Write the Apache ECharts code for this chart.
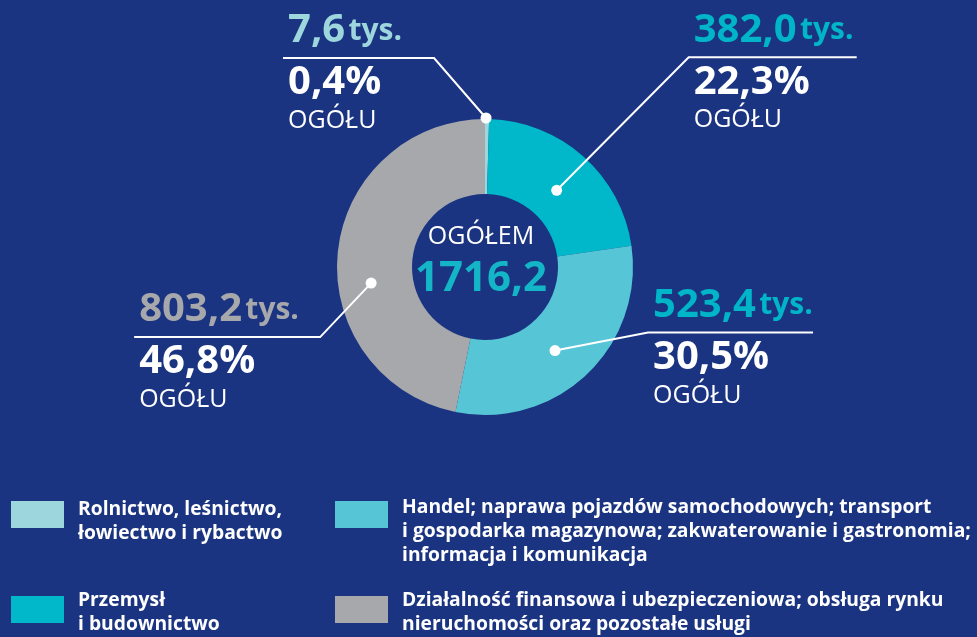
<!DOCTYPE html>
<html>
<head>
<meta charset="utf-8">
<script src="https://cdn.jsdelivr.net/npm/echarts@6/dist/echarts.min.js"></script>
<style>
  html, body { margin: 0; padding: 0; background: #1a3481; }
  #chart { width: 977px; height: 637px; }
</style>
</head>
<body>
<div id="chart"></div>
<script>
const categories = [
  'Rolnictwo, leśnictwo,\nłowiectwo i rybactwo',
  'Przemysł\ni budownictwo',
  'Handel; naprawa pojazdów samochodowych; transport\ni gospodarka magazynowa; zakwaterowanie i gastronomia;\ninformacja i komunikacja',
  'Działalność finansowa i ubezpieczeniowa; obsługa rynku\nnieruchomości oraz pozostałe usługi'
];
const values = [7.6, 382.0, 523.4, 803.2];
const totalTitle = 'OGÓŁEM';
const unit = 'tys.';
const shareWord = 'OGÓŁU';

const sliceColors = ['#9dd6dd', '#00b8c9', '#56c6d6', '#a7a8ac'];
const valueColors = ['#9dd6dd', '#00b5c8', '#00b5c8', '#a7a8ac'];
const font = '"Open Sans", sans-serif';

// leader shape per slice: dot radius, angle nudge (deg), elbow offset, horizontal run
const leaders = [
  { r: 149, nudge: -0.4, dx: -52, dy: -60, run: -151 },
  { r: 105, nudge: 1.4, dx: 132, dy: -133, run: 168 },
  { r: 109, nudge: 3.4, dx: 93, dy: -18, run: 165 },
  { r: 115, nudge: -13.8, dx: -51, dy: 54, run: -186 }
];
// legend layout: [left, top, spacer above text]
const legendBoxes = [[11, 483.5, 14], [11, 582.5, 6], [335, 461, 35], [335, 582.5, 6]];

const total = values.reduce((a, b) => a + b, 0);
const fmt = v => v.toFixed(1).replace('.', ',');
const cum = values.map((v, i) => values.slice(0, i).reduce((a, b) => a + b, 0));
const dots = values.map((v, i) => [leaders[i].r, cum[i] + v / 2 + leaders[i].nudge / 360 * total]);

const chart = echarts.init(document.getElementById('chart'));

const rich = {
  p: { fontSize: 40, fontWeight: 'bold', color: '#fff', lineHeight: 52, fontFamily: font },
  o: { fontSize: 25, color: '#fff', lineHeight: 24, fontFamily: font }
};
valueColors.forEach((c, i) => {
  rich['v' + i] = { fontSize: 40, fontWeight: 'bold', color: c, lineHeight: 52, fontFamily: font };
  rich['t' + i] = { fontSize: 30, fontWeight: 'bold', color: c, lineHeight: 52, fontFamily: font };
});

const pieBase = {
  type: 'pie',
  center: [485, 267],
  radius: [73, 148],
  startAngle: 90,
  clockwise: true,
  silent: true
};

chart.setOption({
  backgroundColor: '#1a3481',
  animation: false,
  title: {
    text: totalTitle,
    subtext: fmt(total),
    left: 481,
    top: 224,
    padding: 0,
    itemGap: 9,
    textAlign: 'center',
    textStyle: { color: '#fff', fontSize: 25, fontWeight: 'normal', fontFamily: font },
    subtextStyle: { color: '#13b5c7', fontSize: 42, fontWeight: 'bold', fontFamily: font }
  },
  legend: categories.map((name, i) => ({
    data: [name],
    left: legendBoxes[i][0],
    top: legendBoxes[i][1],
    padding: 0,
    icon: 'rect',
    itemWidth: 53,
    itemHeight: 27,
    selectedMode: false,
    formatter: n => '{s| }\n' + n,
    textStyle: {
      color: '#fff', fontSize: 19.3, fontWeight: 'bold', lineHeight: 24, fontFamily: font,
      padding: [0, 0, 0, 9],
      rich: { s: { fontSize: 1, lineHeight: legendBoxes[i][2] } }
    }
  })),
  polar: { center: [485, 267], radius: 160 },
  angleAxis: { type: 'value', min: 0, max: total, startAngle: 90, clockwise: true, show: false },
  radiusAxis: { type: 'value', min: 0, max: 160, show: false },
  series: [
    Object.assign({}, pieBase, {
      z: 2,
      label: { show: false },
      labelLine: { show: false },
      data: values.map((v, i) => ({ name: categories[i], value: v, itemStyle: { color: sliceColors[i] } }))
    }),
    // transparent copy on top that carries the callouts
    Object.assign({}, pieBase, {
      z: 3,
      avoidLabelOverlap: false,
      itemStyle: { color: 'rgba(0,0,0,0)' },
      data: values.map((v, i) => ({ name: categories[i], value: v })),
      label: {
        show: true,
        position: 'outside',
        formatter: p => {
          const i = p.dataIndex;
          const pct = fmt(values[i] / total * 100) + '%';
          return `{v${i}|${fmt(values[i])}} {t${i}|${unit}}\n{p|${pct}}\n{o|${shareWord}}`;
        },
        rich
      },
      labelLine: { show: true, smooth: false, lineStyle: { color: '#fff', width: 2, opacity: 1 } },
      labelLayout: params => {
        const i = params.dataIndex;
        const L = leaders[i];
        const [x0, y0] = chart.convertToPixel({ seriesIndex: 2 }, dots[i]);
        const ex = x0 + L.dx, ey = y0 + L.dy, hx = ex + L.run;
        return {
          x: Math.min(ex, hx) + 5,
          y: ey - 53,
          align: 'left',
          verticalAlign: 'top',
          labelLinePoints: [[x0, y0], [ex, ey], [hx, ey]]
        };
      }
    }),
    {
      type: 'scatter',
      coordinateSystem: 'polar',
      data: dots,
      symbolSize: 11,
      silent: true,
      z: 5,
      itemStyle: { color: '#fff', opacity: 1 }
    }
  ]
});
</script>
</body>
</html>
